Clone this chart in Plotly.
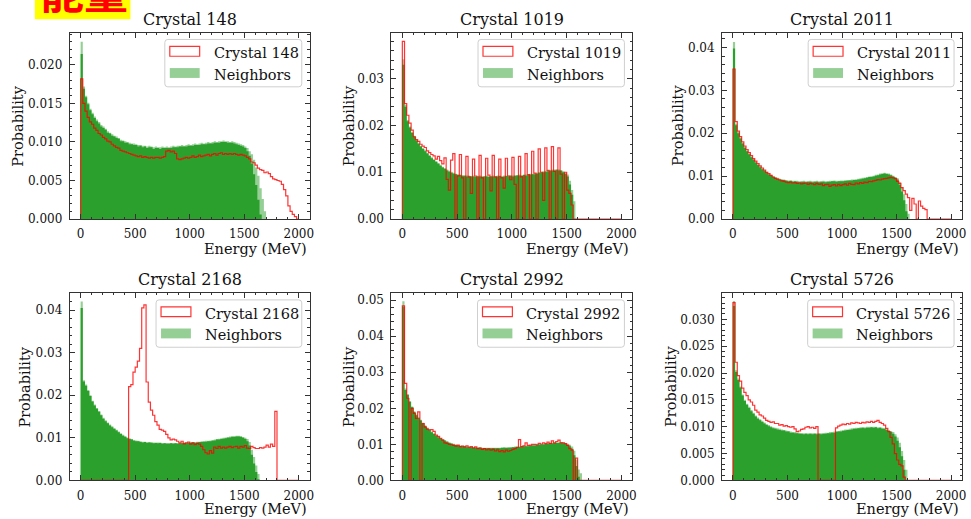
import numpy as np
import plotly.graph_objects as go

# ---------------- data (probability per 20 MeV bin, in units of 1e-4) ----------------
BIN_EDGES = np.arange(0, 2001, 20)
UNIT = 1e-4

titles = ["Crystal 148", "Crystal 1019", "Crystal 2011", "Crystal 2168", "Crystal 2992", "Crystal 5726"]
neighbor_label = "Neighbors"
x_label = "Energy (MeV)"
y_label = "Probability"
x_ticks = [0, 500, 1000, 1500, 2000]

crystal_148 = [182,150,140,132,126,123,118,115,111,109,
               106,104,101,100,97,95,93,92,89,88,
               87,86,85,84,83,82,81,82,80,81,
               80,79,80,79,80,80,79,80,81,88,
               89,87,88,85,78,77,78,79,80,79,
               80,82,80,81,83,81,82,83,84,82,
               84,85,83,85,86,84,85,84,85,84,
               85,84,83,84,83,82,80,78,74,73,
               70,66,64,63,60,61,59,55,52,51,
               50,49,45,38,30,17,10,6,3,0]
nb_148_light = [230,172,160,151,143,138,133,129,126,122,
                120,117,114,112,110,108,107,105,103,102,
                101,100,99,98,98,97,96,96,95,95,
                94,95,94,93,94,93,93,94,93,94,
                93,94,95,94,95,95,96,95,96,97,
                96,97,98,97,98,99,98,99,100,99,
                100,101,100,101,101,102,101,101,100,101,
                100,99,98,97,96,94,92,88,84,77,
                67,56,40,26,10,0,0,0,0,0,
                0,0,0,0,0,0,0,0,0,0]
nb_148_core = [214,169,158,149,141,136,131,127,124,120,
               118,116,112,111,108,107,105,104,101,101,
               99,99,97,97,96,96,94,95,93,94,
               92,93,93,91,92,92,91,92,92,92,
               92,92,93,93,93,94,94,94,94,95,
               95,95,96,96,96,97,97,97,98,98,
               98,99,99,99,100,100,100,99,99,99,
               98,97,96,95,94,92,88,82,72,58,
               44,25,6,0,0,0,0,0,0,0,
               0,0,0,0,0,0,0,0,0,0]

crystal_1019 = [380,247,222,205,190,176,170,166,160,156,
                153,146,142,138,135,128,134,125,118,131,
                85,62,126,140,0,92,138,88,0,134,
                90,55,128,92,0,136,88,0,130,94,
                60,136,90,0,128,88,66,130,92,84,
                132,74,0,134,90,0,140,95,0,145,
                98,0,150,100,40,152,104,0,155,102,
                0,152,96,0,100,62,55,30,0,0,
                0,0,0,0,0,0,0,0,0,0,
                0,0,0,0,0,0,0,0,0,0]
nb_1019_light = [342,244,212,198,186,178,170,163,157,152,
                 147,142,137,132,128,124,120,116,112,109,
                 106,103,101,99,97,96,95,94,94,93,
                 93,92,93,92,92,93,92,92,93,92,
                 92,93,92,93,93,92,93,93,93,94,
                 93,94,94,95,94,95,95,96,97,97,
                 98,99,100,101,102,103,104,105,106,106,
                 107,106,105,102,99,95,82,62,38,0,
                 0,0,0,0,0,0,0,0,0,0,
                 0,0,0,0,0,0,0,0,0,0]
nb_1019_core = [330,240,209,196,184,176,168,161,155,150,
                145,140,135,130,126,122,118,114,110,107,
                104,101,99,97,96,94,94,92,92,91,
                91,91,91,90,91,91,90,91,91,90,
                91,91,90,91,92,90,91,92,91,92,
                91,92,93,93,92,94,93,94,95,96,
                96,97,99,99,100,101,102,103,104,104,
                105,104,103,100,97,91,74,52,0,0,
                0,0,0,0,0,0,0,0,0,0,
                0,0,0,0,0,0,0,0,0,0]

crystal_2011 = [350,227,205,192,180,170,162,155,148,141,
                135,129,124,119,114,109,106,102,98,95,
                93,91,89,88,86,85,86,84,85,83,
                84,82,83,84,81,83,82,80,83,81,
                82,78,80,81,76,79,80,77,81,78,
                80,82,79,83,81,80,84,82,85,83,
                86,85,88,87,89,90,92,91,93,94,
                95,96,97,96,94,88,83,73,66,58,
                50,20,48,35,0,42,30,25,22,0,
                0,0,0,0,0,0,0,0,0,0]
nb_2011_light = [413,222,203,190,178,168,160,153,146,140,
                 134,128,123,118,114,110,106,103,100,98,
                 96,94,93,92,91,90,90,89,89,89,
                 88,88,89,88,88,89,88,88,89,88,
                 88,89,88,88,89,89,90,89,89,90,
                 90,90,91,91,92,92,93,94,95,96,
                 97,98,99,100,101,103,104,106,107,108,
                 107,106,104,101,98,95,86,74,58,35,
                 12,0,0,0,0,0,0,0,0,0,
                 0,0,0,0,0,0,0,0,0,0]
nb_2011_core = [398,219,200,188,176,166,158,151,144,138,
                132,126,121,116,112,108,104,101,98,96,
                94,92,91,91,89,88,89,87,88,87,
                86,87,87,86,87,87,86,87,87,86,
                87,87,86,87,87,88,88,87,88,88,
                88,89,89,90,90,91,91,92,93,94,
                95,96,98,98,99,101,102,104,105,106,
                105,104,102,99,96,92,80,64,44,18,
                0,0,0,0,0,0,0,0,0,0,
                0,0,0,0,0,0,0,0,0,0]

crystal_2168 = [0,0,0,0,0,0,0,0,0,0,
                0,0,0,0,0,0,0,0,0,0,
                0,0,220,225,254,266,280,310,405,412,
                231,184,165,153,138,130,120,118,115,108,
                100,95,97,95,92,88,92,86,88,90,
                85,88,84,87,85,80,72,65,62,70,
                64,78,75,80,76,78,76,78,80,77,
                79,80,76,80,78,82,76,75,80,77,
                75,75,77,76,78,83,78,85,80,162,
                0,0,0,0,0,0,0,0,0,0]
nb_2168_light = [420,235,225,212,200,187,178,170,163,155,
                 147,141,136,131,127,123,119,115,111,107,
                 104,101,99,97,95,94,93,92,91,91,
                 90,90,90,89,89,89,89,88,88,88,
                 88,88,88,88,88,88,89,89,89,89,
                 90,90,90,91,91,92,92,93,93,94,
                 95,96,97,98,99,100,101,102,103,104,
                 104,105,105,104,102,100,97,90,72,55,
                 35,15,0,0,0,0,0,0,0,0,
                 0,0,0,0,0,0,0,0,0,0]
nb_2168_core = [405,232,222,210,198,185,176,168,161,153,
                145,139,134,129,125,121,117,113,109,105,
                102,99,97,96,93,92,92,90,89,90,
                88,89,88,87,88,87,88,86,87,86,
                86,87,86,87,86,87,87,88,87,88,
                88,89,88,89,90,90,91,91,92,92,
                93,94,96,96,97,98,99,100,101,102,
                102,103,103,102,100,97,92,82,60,40,
                20,3,0,0,0,0,0,0,0,0,
                0,0,0,0,0,0,0,0,0,0]

crystal_2992 = [484,269,228,0,200,186,172,190,0,158,
                148,142,140,141,136,126,122,117,112,104,
                103,100,99,97,95,98,94,95,93,96,
                92,94,90,93,88,90,86,88,85,87,
                84,86,82,85,80,83,79,84,81,83,
                86,88,92,113,94,96,104,97,98,100,
                100,99,103,101,104,102,106,103,110,104,
                108,112,105,104,102,97,88,84,0,62,
                0,0,0,0,0,0,0,0,0,0,
                0,0,0,0,0,0,0,0,0,0]
nb_2992_light = [497,255,240,220,205,192,183,175,168,160,
                 153,147,141,136,131,126,122,118,115,112,
                 109,106,104,102,100,98,97,96,95,94,
                 94,93,93,92,92,92,91,91,91,91,
                 91,91,91,91,91,92,92,92,92,93,
                 93,94,94,95,95,96,96,97,98,98,
                 99,100,101,101,102,103,104,104,105,105,
                 106,106,105,105,104,102,99,94,82,58,
                 30,20,0,0,0,0,0,0,0,0,
                 0,0,0,0,0,0,0,0,0,0]
nb_2992_core = [482,251,237,218,203,190,181,173,166,158,
                151,145,139,134,129,124,120,116,113,110,
                107,104,102,100,98,97,95,94,94,92,
                92,92,91,91,90,91,89,90,89,90,
                89,90,89,90,89,90,91,90,91,91,
                92,92,93,93,94,94,95,95,96,97,
                97,98,99,100,100,101,102,103,103,104,
                104,104,104,103,102,99,95,88,70,40,
                10,0,0,0,0,0,0,0,0,0,
                0,0,0,0,0,0,0,0,0,0]

crystal_5726 = [331,220,195,185,172,164,158,150,146,140,
                131,127,122,120,116,112,110,108,109,106,
                106,103,104,101,102,100,99,100,96,91,
                92,95,96,99,100,98,99,97,100,0,
                0,0,0,0,0,0,0,98,101,103,
                105,104,106,105,107,106,108,107,106,108,
                107,109,108,110,108,110,112,108,106,103,
                97,91,80,68,50,38,30,27,6,0,
                0,0,0,0,0,0,0,0,0,0,
                0,0,0,0,0,0,0,0,0,0]
nb_5726_light = [334,205,190,175,160,150,143,137,131,126,
                 121,117,114,111,108,105,103,101,99,98,
                 97,96,95,94,93,92,91,90,90,89,
                 89,88,88,88,88,88,88,88,88,88,
                 88,88,89,89,90,90,91,92,92,93,
                 94,95,95,96,97,97,98,98,99,99,
                 99,100,100,100,100,100,99,99,98,97,
                 96,94,92,90,86,80,70,55,38,20,
                 0,0,0,0,0,0,0,0,0,0,
                 0,0,0,0,0,0,0,0,0,0]
nb_5726_core = [325,202,187,173,158,148,141,135,129,124,
                119,115,112,109,106,103,101,99,97,96,
                95,94,93,93,91,91,89,89,88,88,
                87,87,86,87,86,87,86,87,86,87,
                86,87,87,88,88,89,89,90,91,91,
                92,93,94,94,95,96,96,97,97,98,
                97,98,98,99,98,99,97,98,96,96,
                94,92,90,87,82,74,62,45,20,0,
                0,0,0,0,0,0,0,0,0,0,
                0,0,0,0,0,0,0,0,0,0]

y_dtick = [0.005, 0.01, 0.01, 0.01, 0.01, 0.005]
y_minor = [0.001, 0.002, 0.002, 0.002, 0.002, 0.001]
y_format = [".3f", ".2f", ".2f", ".2f", ".2f", ".3f"]
y_top = [0.0242, 0.0399, 0.0435, 0.0440, 0.0520, 0.0349]

crystals = [crystal_148, crystal_1019, crystal_2011, crystal_2168, crystal_2992, crystal_5726]
lights = [nb_148_light, nb_1019_light, nb_2011_light, nb_2168_light, nb_2992_light, nb_5726_light]
cores = [nb_148_core, nb_1019_core, nb_2011_core, nb_2168_core, nb_2992_core, nb_5726_core]

# ---------------- layout geometry (pixels) ----------------
W, H = 971, 519
COLS = [(70, 311), (393, 635), (725, 966)]
ROWS = [(33, 222), (297, 487)]
XLABEL_OFF = [30, 28.5]
LEG_RECT_LEFT = [170.5, 485, 816.5, 161.7, 484.5, 816]
YLABEL_X = [18, 350, 681, 25, 350, 673]
FONT = "DejaVu Serif"
RED = "rgba(255,0,0,0.8)"
GREEN = "#2ca02c"
GREEN_LIGHT = "rgba(44,160,44,0.5)"
AX = "#333333"


def X(px):
    return px / W


def Y(py):
    return 1 - py / H


def step_xy(vals):
    v = (np.asarray(vals, dtype=float) * UNIT).tolist()
    xs = [BIN_EDGES[0]] + BIN_EDGES[:-1].tolist() + [BIN_EDGES[-1]]
    ys = [0.0] + v + [0.0]
    return xs, ys


def rrect_path(x0, y0, x1, y1, r):
    def p(x, y):
        return f"{X(x):.6f},{Y(y):.6f}"
    return (f"M{p(x0 + r, y0)} L{p(x1 - r, y0)} Q{p(x1, y0)} {p(x1, y0 + r)} "
            f"L{p(x1, y1 - r)} Q{p(x1, y1)} {p(x1 - r, y1)} L{p(x0 + r, y1)} "
            f"Q{p(x0, y1)} {p(x0, y1 - r)} L{p(x0, y0 + r)} Q{p(x0, y0)} {p(x0 + r, y0)} Z")


fig = go.Figure()
shapes = []
annotations = []
layout_axes = {}

for i in range(6):
    for arr in (crystals[i], lights[i], cores[i]):
        assert len(arr) == 100, (i, len(arr))
    r, c = divmod(i, 3)
    n = "" if i == 0 else str(i + 1)
    xa, ya = "x" + n, "y" + n
    cx0, cx1 = COLS[c]
    ry0, ry1 = ROWS[r]

    xs, ys = step_xy(lights[i])
    fig.add_trace(go.Scatter(x=xs, y=ys, xaxis=xa, yaxis=ya, mode="lines",
                             line=dict(width=0, shape="hv"), fill="tozeroy",
                             fillcolor=GREEN_LIGHT, hoverinfo="skip", showlegend=False))
    xs, ys = step_xy(cores[i])
    fig.add_trace(go.Scatter(x=xs, y=ys, xaxis=xa, yaxis=ya, mode="lines",
                             line=dict(width=0, shape="hv"), fill="tozeroy",
                             fillcolor=GREEN, hoverinfo="skip", showlegend=False))
    xs, ys = step_xy(crystals[i])
    fig.add_trace(go.Scatter(x=xs, y=ys, xaxis=xa, yaxis=ya, mode="lines",
                             line=dict(width=1.2, shape="hv", color=RED),
                             name=titles[i], showlegend=False))

    common = dict(showline=True, linecolor=AX, linewidth=1, mirror="allticks",
                  ticks="inside", ticklen=5, tickwidth=1, tickcolor=AX,
                  showgrid=False, zeroline=False,
                  tickfont=dict(family=FONT, size=12, color="#111"))
    layout_axes["xaxis" + n] = dict(common, domain=[X(cx0), X(cx1)], anchor=ya,
                                    range=[-100, 2100], tickvals=x_ticks,
                                    ticktext=[str(t) for t in x_ticks],
                                    minor=dict(ticks="inside", ticklen=2.5, tickwidth=0.8,
                                               tickcolor=AX, dtick=100, tick0=0),
                                    ticklabelstandoff=4)
    layout_axes["yaxis" + n] = dict(common, domain=[Y(ry1), Y(ry0)], anchor=xa,
                                    range=[0, y_top[i]], dtick=y_dtick[i], tick0=0,
                                    tickformat=y_format[i],
                                    minor=dict(ticks="inside", ticklen=2.5, tickwidth=0.8,
                                               tickcolor=AX, dtick=y_minor[i], tick0=0),
                                    ticklabelstandoff=4)

    # title
    annotations.append(dict(text=titles[i], x=X((cx0 + cx1) / 2), y=Y(ry0 - 13.5),
                            xref="paper", yref="paper", xanchor="center", yanchor="middle",
                            showarrow=False, font=dict(family=FONT, size=16, color="#111")))
    # axis labels
    annotations.append(dict(text=x_label, x=X(cx1 - 1), y=Y(ry1 + XLABEL_OFF[r]),
                            xref="paper", yref="paper", xanchor="right", yanchor="middle",
                            showarrow=False, font=dict(family=FONT, size=14.5, color="#111")))
    annotations.append(dict(text=y_label, x=X(YLABEL_X[i]), y=Y((ry0 + ry1) / 2),
                            xref="paper", yref="paper", xanchor="center", yanchor="middle",
                            textangle=-90, showarrow=False,
                            font=dict(family=FONT, size=14.5, color="#111")))
    # legend
    rl = LEG_RECT_LEFT[i]
    ft = ry0 + 7
    shapes.append(dict(type="path", path=rrect_path(rl - 5, ft, cx1 - 8, ft + 48, 3),
                       xref="paper", yref="paper", fillcolor="rgba(255,255,255,0.8)",
                       line=dict(color="#cfcfcf", width=1), layer="above"))
    shapes.append(dict(type="rect", x0=X(rl), x1=X(rl + 30), y0=Y(ft + 17), y1=Y(ft + 7),
                       xref="paper", yref="paper", fillcolor="rgba(0,0,0,0)",
                       line=dict(color=RED, width=1.2), layer="above"))
    shapes.append(dict(type="rect", x0=X(rl), x1=X(rl + 30), y0=Y(ft + 39), y1=Y(ft + 29),
                       xref="paper", yref="paper", fillcolor=GREEN_LIGHT,
                       line=dict(width=0), layer="above"))
    annotations.append(dict(text=titles[i], x=X(rl + 42), y=Y(ft + 14),
                            xref="paper", yref="paper", xanchor="left", yanchor="middle",
                            showarrow=False, font=dict(family=FONT, size=14.5, color="#111")))
    annotations.append(dict(text=neighbor_label, x=X(rl + 42), y=Y(ft + 36),
                            xref="paper", yref="paper", xanchor="left", yanchor="middle",
                            showarrow=False, font=dict(family=FONT, size=14.5, color="#111")))

# cropped yellow tag at top-left
shapes.append(dict(type="rect", x0=X(35), x1=X(131), y0=Y(19.5), y1=Y(-5),
                   xref="paper", yref="paper", fillcolor="#ffff00", line=dict(width=0),
                   layer="above"))
annotations.append(dict(text="<b>能量</b>", x=X(84), y=Y(24), xref="paper", yref="paper",
                        xanchor="center", yanchor="bottom", showarrow=False,
                        font=dict(family="Noto Sans CJK SC", size=44, color="#ff0000")))

fig.update_layout(width=W, height=H, margin=dict(l=0, r=0, t=0, b=0),
                  paper_bgcolor="white", plot_bgcolor="white", showlegend=False,
                  shapes=shapes, annotations=annotations, **layout_axes)

fig.write_html("out.html")
